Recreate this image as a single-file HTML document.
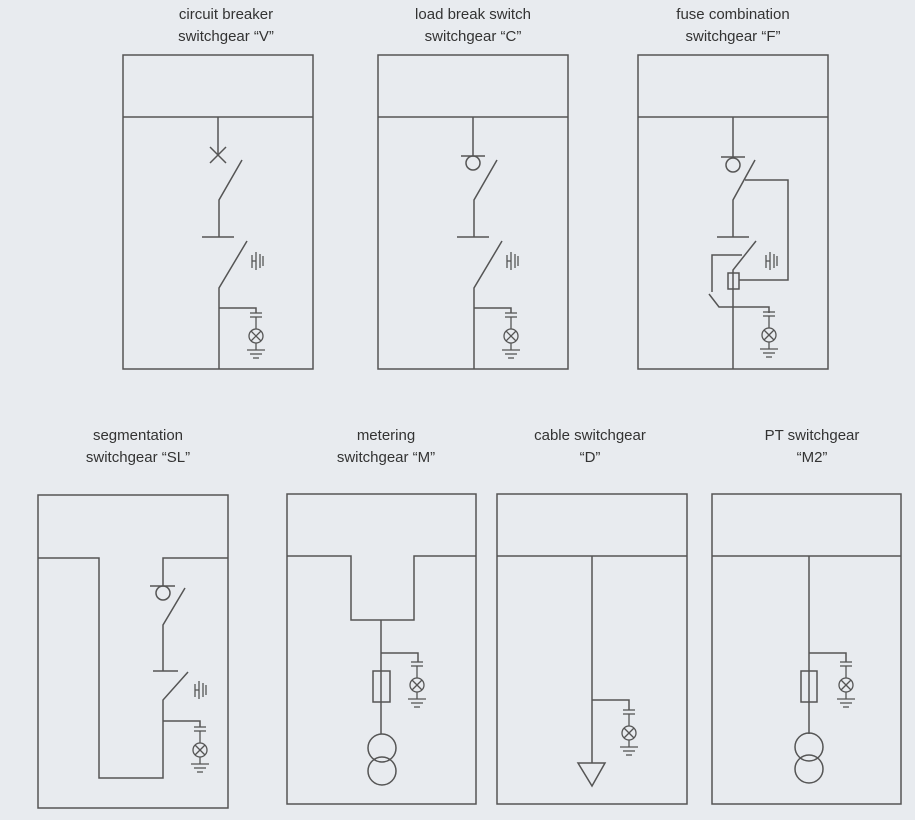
<!DOCTYPE html>
<html><head><meta charset="utf-8"><style>
html,body{margin:0;padding:0;background:#e8ebef;}
svg{display:block;}
text{font-family:"Liberation Sans",sans-serif;font-size:15px;fill:#333;text-anchor:middle;}
</style></head><body>
<svg width="915" height="820" viewBox="0 0 915 820" xmlns="http://www.w3.org/2000/svg">
<defs>
<g id="lamp" stroke="#555" stroke-width="1.3" fill="none">
<line x1="-6" y1="-23" x2="6" y2="-23"/><line x1="-6" y1="-19" x2="6" y2="-19"/>
<line x1="0" y1="-19" x2="0" y2="-7"/>
<circle cx="0" cy="0" r="7"/>
<line x1="-5" y1="-5" x2="5" y2="5"/><line x1="-5" y1="5" x2="5" y2="-5"/>
<line x1="0" y1="7" x2="0" y2="14"/>
<line x1="-9" y1="14" x2="9" y2="14"/><line x1="-6" y1="18" x2="6" y2="18"/><line x1="-3" y1="22" x2="3" y2="22"/>
</g>
<g id="earth" stroke="#555" stroke-width="1.3" fill="none">
<line x1="0" y1="3" x2="0" y2="16"/><line x1="0" y1="9" x2="4" y2="9"/>
<line x1="4" y1="0" x2="4" y2="18"/><line x1="8" y1="2" x2="8" y2="16"/><line x1="11" y1="4" x2="11" y2="14"/>
</g>
</defs>
<text x="226" y="19">circuit breaker</text><text x="226" y="41">switchgear “V”</text>
<text x="473" y="19">load break switch</text><text x="473" y="41">switchgear  “C”</text>
<text x="733" y="19">fuse combination</text><text x="733" y="41">switchgear “F”</text>
<text x="138" y="440">segmentation</text><text x="138" y="462">switchgear “SL”</text>
<text x="386" y="440">metering</text><text x="386" y="462">switchgear “M”</text>
<text x="590" y="440">cable switchgear</text><text x="590" y="462">“D”</text>
<text x="812" y="440">PT switchgear</text><text x="812" y="462">“M2”</text>

<g stroke="#555" stroke-width="1.5" fill="none">
<!-- V -->
<rect x="123" y="55" width="190" height="314"/><line x1="123" y1="117" x2="313" y2="117"/>
<line x1="218" y1="117" x2="218" y2="155"/>
<line x1="210" y1="147" x2="226" y2="163"/><line x1="210" y1="163" x2="226" y2="147"/>
<polyline points="242,160 219,200 219,237"/><line x1="202" y1="237" x2="234" y2="237"/>
<polyline points="247,241 219,288 219,369"/>
<polyline points="219,308 256,308 256,313"/>
<!-- C -->
<rect x="378" y="55" width="190" height="314"/><line x1="378" y1="117" x2="568" y2="117"/>
<line x1="473" y1="117" x2="473" y2="156"/>
<line x1="461" y1="156" x2="485" y2="156"/><circle cx="473" cy="163" r="7"/>
<polyline points="497,160 474,200 474,237"/><line x1="457" y1="237" x2="489" y2="237"/>
<polyline points="502,241 474,288 474,369"/>
<polyline points="474,308 511,308 511,313"/>
<!-- F -->
<rect x="638" y="55" width="190" height="314"/><line x1="638" y1="117" x2="828" y2="117"/>
<line x1="733" y1="117" x2="733" y2="157"/>
<line x1="721" y1="157" x2="745" y2="157"/><circle cx="733" cy="165" r="7"/>
<polyline points="755,160 733,200 733,237"/><line x1="717" y1="237" x2="749" y2="237"/>
<polyline points="745,180 788,180 788,280 739,280"/>
<polyline points="756,241 733,270 733,369"/>
<rect x="728" y="273" width="11" height="16"/>
<polyline points="742,255 712,255 712,292"/>
<polyline points="709,294 719,307 769,307 769,313"/>
<!-- SL -->
<rect x="38" y="495" width="190" height="313"/>
<polyline points="38,558 99,558 99,778 163,778 163,700 188,672"/>
<polyline points="228,558 163,558 163,586"/>
<line x1="150" y1="586" x2="175" y2="586"/><circle cx="163" cy="593" r="7"/>
<polyline points="185,588 163,625 163,671"/><line x1="153" y1="671" x2="178" y2="671"/>
<polyline points="163,721 200,721 200,727"/>
<!-- M -->
<rect x="287" y="494" width="189" height="310"/>
<polyline points="287,556 351,556 351,620 414,620 414,556 476,556"/>
<line x1="381" y1="620" x2="381" y2="734"/>
<polyline points="381,653 418,653 418,662"/>
<rect x="373" y="671" width="17" height="31"/>
<circle cx="382" cy="748" r="14"/><circle cx="382" cy="771" r="14"/>
<!-- D -->
<rect x="497" y="494" width="190" height="310"/><line x1="497" y1="556" x2="687" y2="556"/>
<line x1="592" y1="556" x2="592" y2="763"/>
<polyline points="592,700 629,700 629,710"/>
<polygon points="578,763 605,763 592,786"/>
<!-- M2 -->
<rect x="712" y="494" width="189" height="310"/><line x1="712" y1="556" x2="901" y2="556"/>
<line x1="809" y1="556" x2="809" y2="734"/>
<polyline points="809,653 846,653 846,662"/>
<rect x="801" y="671" width="16" height="31"/>
<circle cx="809" cy="747" r="14"/><circle cx="809" cy="769" r="14"/>
</g>
<use href="#lamp" x="256" y="336"/><use href="#lamp" x="511" y="336"/><use href="#lamp" x="769" y="335"/>
<use href="#lamp" x="200" y="750"/><use href="#lamp" x="417" y="685"/><use href="#lamp" x="629" y="733"/><use href="#lamp" x="846" y="685"/>
<use href="#earth" x="252" y="252"/><use href="#earth" x="507" y="252"/><use href="#earth" x="766" y="252"/><use href="#earth" x="195" y="681"/>
</svg>
</body></html>
